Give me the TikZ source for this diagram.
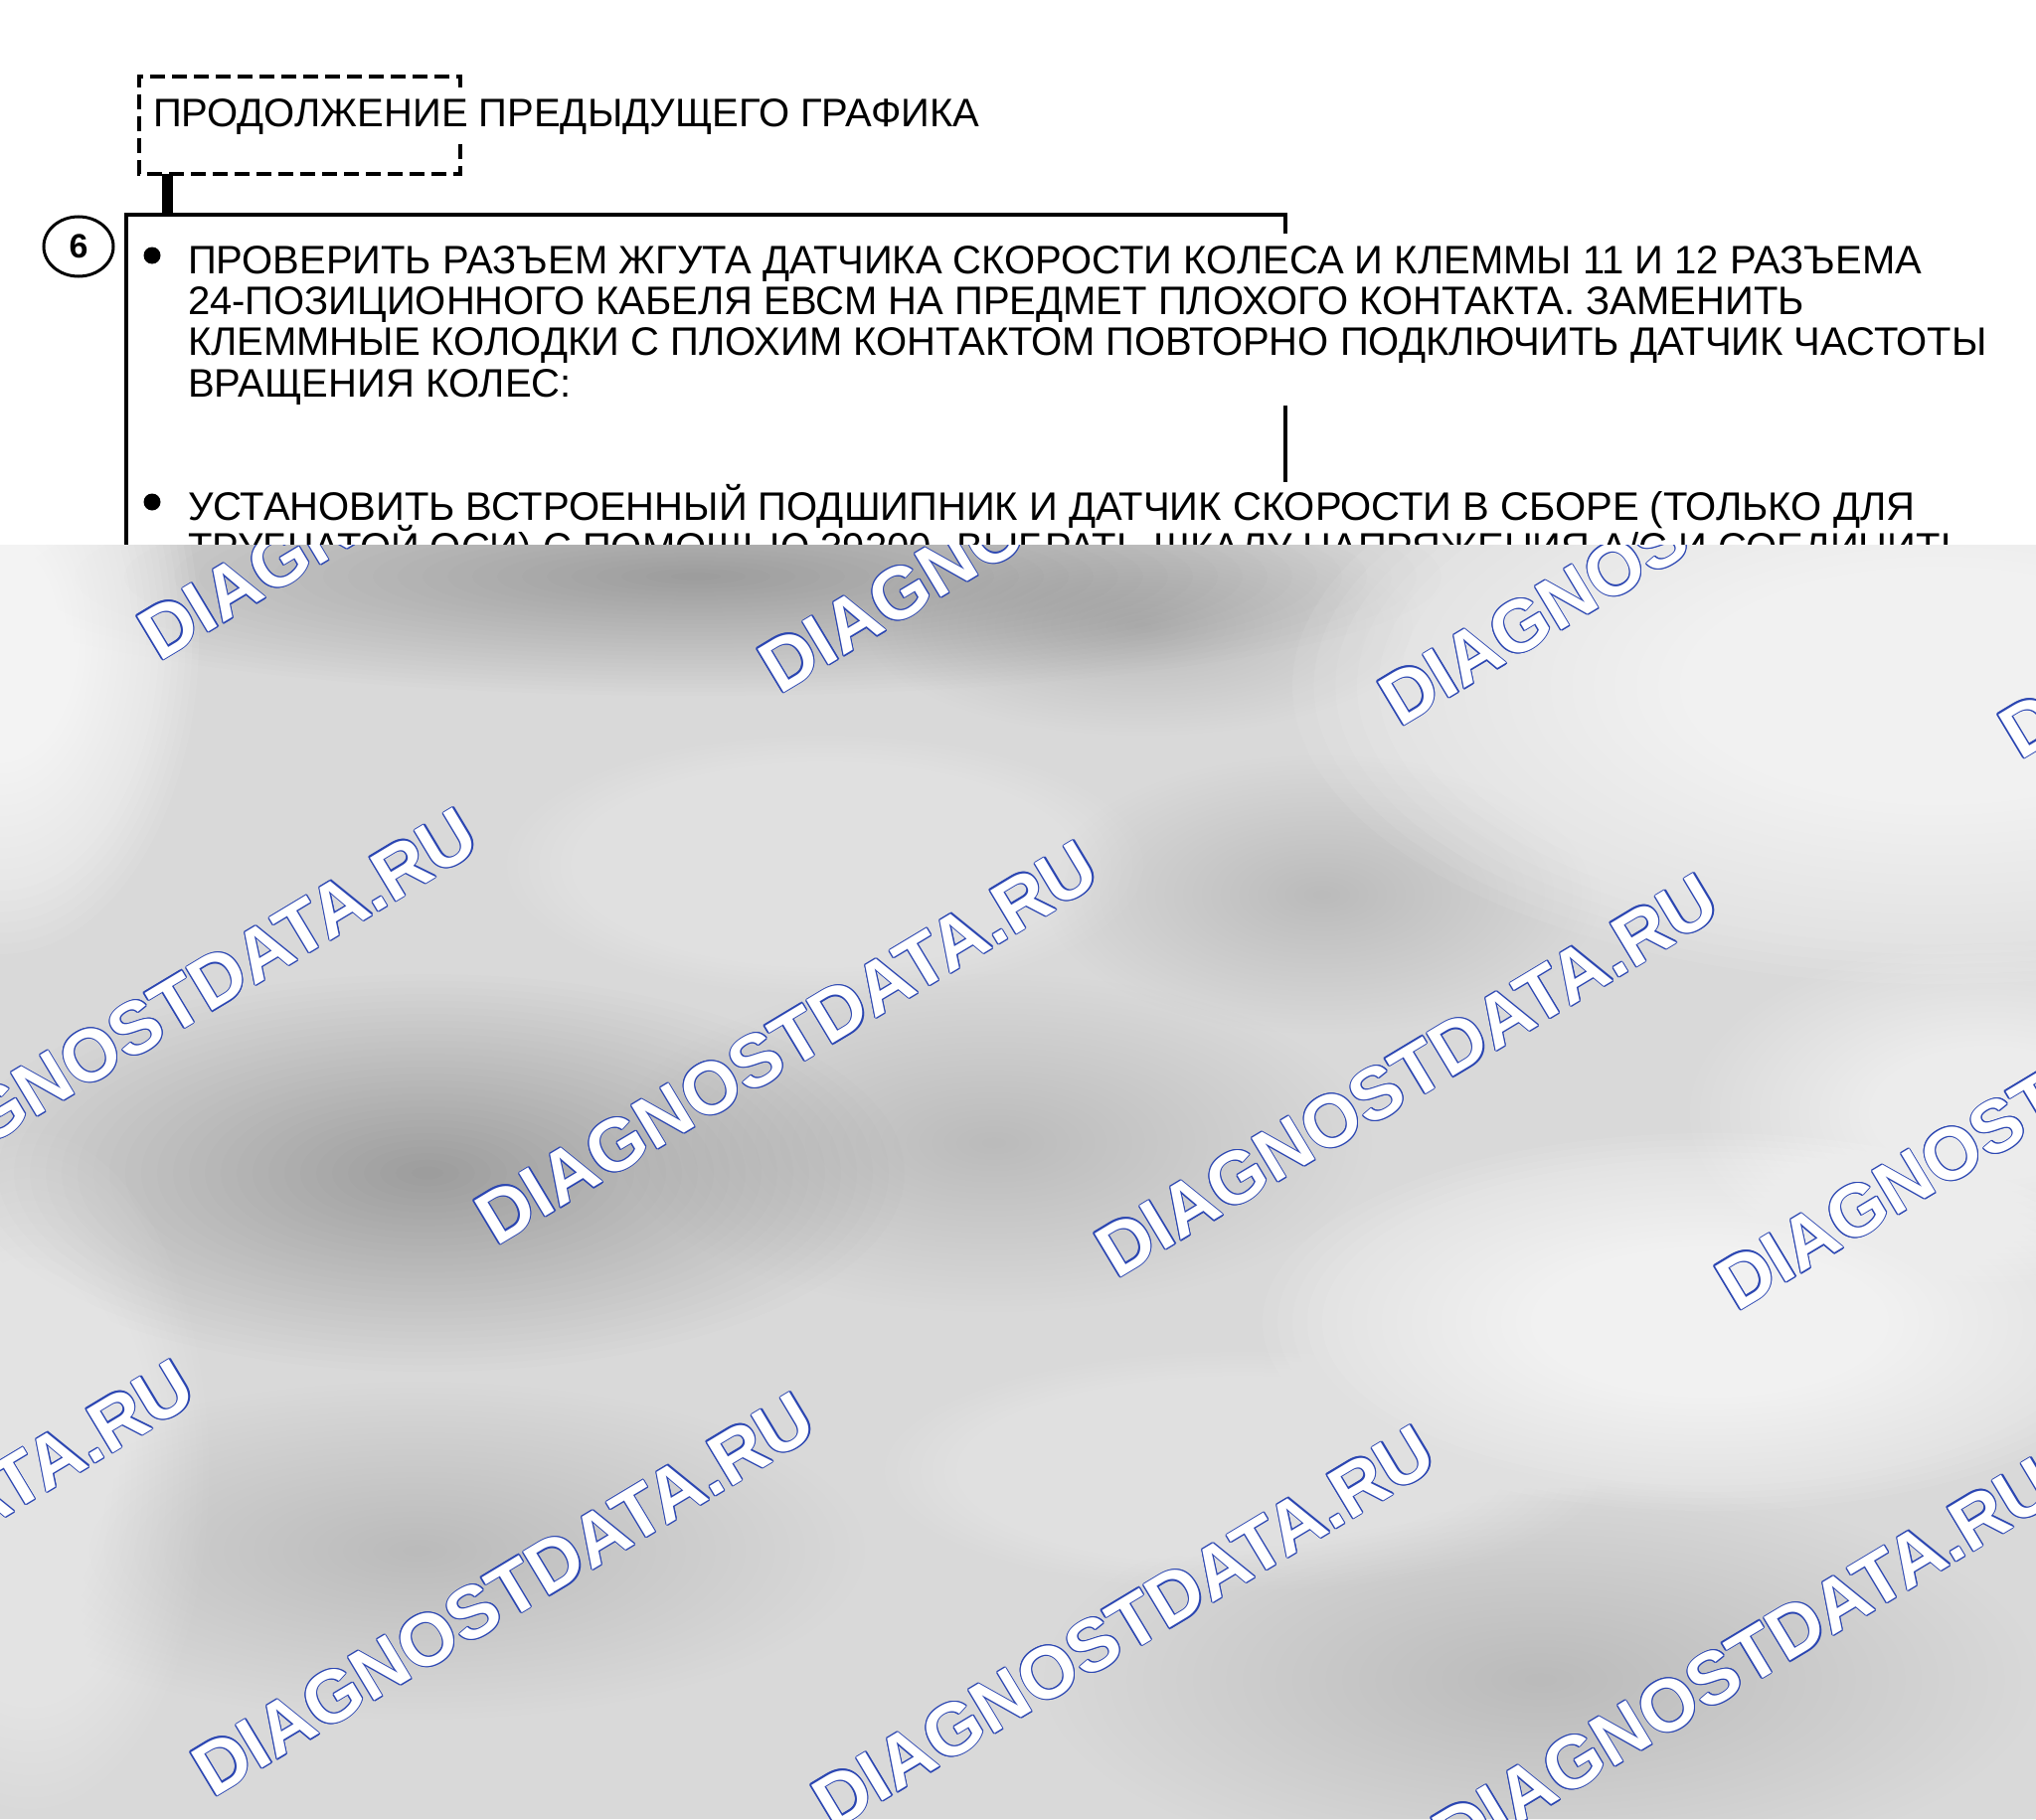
\documentclass[tikz,border=0pt]{standalone}
\usepackage{fontspec}
\setmainfont{Liberation Sans}
\usetikzlibrary{shapes.geometric}
\definecolor{wmblue}{HTML}{2B46B2}
\definecolor{basegray}{HTML}{D9D9D9}
\newcommand\gblob[6]{\foreach \k in {1,...,30}{\fill[#1,opacity=#6] (#2,#3) ellipse [x radius={#4/30*\k}, y radius={#5/30*\k}];}}
\begin{document}
\begin{tikzpicture}[x=0.5pt,y=-0.5pt,
  every node/.style={inner sep=0pt, outer sep=0pt},
  titletext/.style={anchor=base west, font=\fontsize{20pt}{21pt}\selectfont},
  bodytext/.style={anchor=base west, font=\fontsize{20pt}{21pt}\selectfont},
  dashbox/.style={line width=2pt, dash pattern=on 7.5pt off 3.5pt},
  stepbox/.style={line width=1.8pt},
  bulletdot/.style={circle, fill=black, minimum size=8.5pt},
  stepnum/.style={ellipse, draw, line width=1.5pt, minimum width=35pt, minimum height=30pt, font=\fontsize{17pt}{17pt}\selectfont\bfseries},
  wm/.style={anchor=base west, rotate=31, font=\fontsize{37pt}{38pt}\selectfont\bfseries}]
\useasboundingbox (0,0) rectangle (2048,1830);
\fill[white] (0,0) rectangle (2048,1830);

% previous chart box
\coordinate (pnw) at (140,77);
\coordinate (pse) at (463,175);
\draw[dashbox] (463,88) -- (pse |- pnw) -- (pnw) -- (pnw |- pse) -- (pse) -- (463,142);
\node[titletext] (title) at (154,128) {ПРОДОЛЖЕНИЕ ПРЕДЫДУЩЕГО ГРАФИКА};

% step box
\coordinate (prevout) at (168,175);
\coordinate (boxin) at (168,216);
\draw[line width=5.5pt] (prevout) -- (boxin);
\draw[stepbox] (1293,235) -- (1293,216) -- (127,216) -- (127,600);
\draw[stepbox] (1293,408) -- (1293,485);

\node[stepnum] (n6) at (79,248) {6};
\node[bulletdot] (b1) at (153,257) {};
\node[bulletdot] (b2) at (153,505) {};

\node[bodytext] (l1) at (189,275) {ПРОВЕРИТЬ РАЗЪЕМ ЖГУТА ДАТЧИКА СКОРОСТИ КОЛЕСА И КЛЕММЫ 11 И 12 РАЗЪЕМА};
\node[bodytext] (l2) at (189,316) {24-ПОЗИЦИОННОГО КАБЕЛЯ ЕВСМ НА ПРЕДМЕТ ПЛОХОГО КОНТАКТА. ЗАМЕНИТЬ};
\node[bodytext] (l3) at (189,357) {КЛЕММНЫЕ КОЛОДКИ С ПЛОХИМ КОНТАКТОМ ПОВТОРНО ПОДКЛЮЧИТЬ ДАТЧИК ЧАСТОТЫ};
\node[bodytext] (l4) at (189,399) {ВРАЩЕНИЯ КОЛЕС:};
\node[bodytext] (l5) at (189,523) {УСТАНОВИТЬ ВСТРОЕННЫЙ ПОДШИПНИК И ДАТЧИК СКОРОСТИ В СБОРЕ (ТОЛЬКО ДЛЯ};
\node[bodytext] (l6) at (189,564) {ТРУБЧАТОЙ ОСИ) С ПОМОЩЬЮ 39200. ВЫБРАТЬ ШКАЛУ НАПРЯЖЕНИЯ А/С И СОЕДИНИТЬ};

% watermark overlay
\begin{scope}
\clip (0,548) rectangle (2048,1830);
\fill[basegray] (0,548) rectangle (2048,1830);
% darker patches
\gblob{black}{700}{580}{750}{120}{0.006}
\gblob{black}{430}{1180}{480}{200}{0.006}
\gblob{black}{1000}{1150}{380}{170}{0.004}
\gblob{black}{1330}{900}{280}{140}{0.0025}
\gblob{black}{420}{1560}{450}{170}{0.0035}
\gblob{black}{1550}{1690}{500}{200}{0.0035}
\gblob{black}{1150}{630}{280}{110}{0.003}
% lighter patches
\gblob{white}{0}{640}{200}{320}{0.08}
\gblob{white}{1950}{690}{650}{300}{0.07}
\gblob{white}{1720}{1330}{450}{190}{0.07}
\gblob{white}{830}{870}{320}{130}{0.03}
\gblob{white}{1250}{1480}{360}{120}{0.03}
\gblob{white}{30}{1480}{180}{340}{0.035}
\gblob{white}{2000}{1120}{300}{170}{0.05}
% text watermarks
\foreach \px/\py [count=\n] in {-410/1776, 214/1809, 838/1842, 1462/1875,
    -125/1221, 499/1254, 1123/1287, 1747/1320,
    160/666, 784/699, 1408/732, 2032/765}{
  \foreach \a in {0,45,...,315}{
    \node[wm, text=wmblue, shift={(\a:1.25)}] (wmo\n-\a) at (\px,\py) {DIAGNOSTDATA.RU};
  }
  \node[wm, text=white] (wm\n) at (\px,\py) {DIAGNOSTDATA.RU};
}
\end{scope}
\end{tikzpicture}
\end{document}
